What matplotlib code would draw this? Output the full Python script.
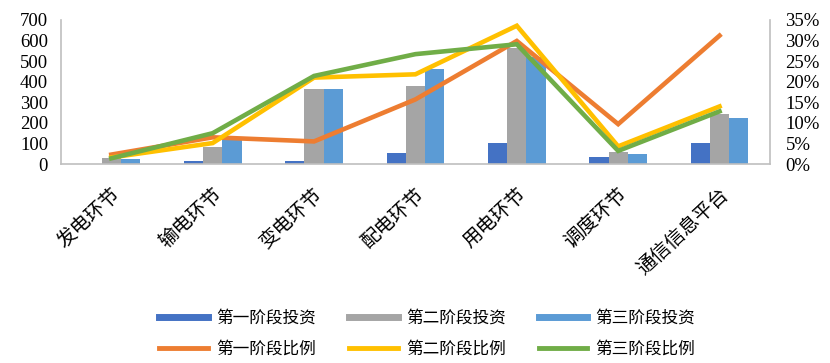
import numpy as np
import matplotlib.pyplot as plt
import matplotlib.transforms as mtransforms
from matplotlib.lines import Line2D
from matplotlib.ticker import FuncFormatter

plt.rcParams['font.family'] = ['Liberation Serif', 'Noto Sans CJK SC']

# categories and values
categories = ['发电环节', '输电环节', '变电环节', '配电环节', '用电环节', '调度环节', '通信信息平台']
invest1 = [2, 16, 16, 55, 100, 33, 104]
invest2 = [31, 84, 365, 379, 562, 57, 243]
invest3 = [23, 117, 365, 460, 520, 49, 222]
ratio1 = [2.3, 6.5, 5.5, 15.7, 29.9, 9.7, 31.2]
ratio2 = [1.6, 5.1, 21.0, 21.8, 33.6, 4.3, 14.0]
ratio3 = [1.4, 7.5, 21.4, 26.7, 29.1, 3.2, 12.8]

bar_colors = ['#4472C4', '#A5A5A5', '#5B9BD5']
line_colors = ['#ED7D31', '#FFC000', '#70AD47']

fig = plt.figure(figsize=(8.3, 3.63), dpi=100)
ax = fig.add_axes([0.073, 0.548, 0.855, 0.397])
ax2 = ax.twinx()

x = np.arange(len(categories))
w = 0.19
for i, vals in enumerate([invest1, invest2, invest3]):
    ax.bar(x + (i - 1) * w, vals, width=w, color=bar_colors[i], zorder=2)

for i, vals in enumerate([ratio1, ratio2, ratio3]):
    ax2.plot(x, vals, color=line_colors[i], lw=3.3, solid_joinstyle='miter', zorder=3)

ax.set_xlim(-0.5, len(categories) - 0.5)
ax.set_ylim(0, 700)
ax.set_yticks(range(0, 701, 100))
ax2.set_ylim(0, 35)
ax2.set_yticks(range(0, 36, 5))
ax2.yaxis.set_major_formatter(FuncFormatter(lambda v, p: '%d%%' % v))

ax.set_xticks(x)
ax.set_xticklabels(categories, rotation=43, ha='right', rotation_mode='anchor', fontsize=14)
# nudge the rotated labels a little to the right like the original
shift = mtransforms.ScaledTranslation(0.05, 0, fig.dpi_scale_trans)
for lab in ax.get_xticklabels():
    lab.set_transform(lab.get_transform() + shift)
ax.tick_params(axis='x', length=0, pad=15)
ax.tick_params(axis='y', length=0, labelsize=13.5, pad=9)
ax2.tick_params(axis='y', length=0, labelsize=13.5, pad=11)

for a in (ax, ax2):
    a.spines['top'].set_visible(False)
    for s in ('left', 'right', 'bottom'):
        a.spines[s].set_color('#BFBFBF')
        a.spines[s].set_linewidth(1.2)
ax.spines['right'].set_visible(False)
ax2.spines['left'].set_visible(False)
ax2.spines['bottom'].set_visible(False)

labels_inv = ['第一阶段投资', '第二阶段投资', '第三阶段投资']
labels_rat = ['第一阶段比例', '第二阶段比例', '第三阶段比例']
handles = []
labels = []
for i in range(3):
    handles.append(Line2D([], [], color=bar_colors[i], lw=5))
    labels.append(labels_inv[i])
    handles.append(Line2D([], [], color=line_colors[i], lw=3.5))
    labels.append(labels_rat[i])
fig.legend(handles, labels, ncol=3, loc='center', bbox_to_anchor=(0.515, 0.079),
           frameon=False, fontsize=12, handlelength=2.9, handletextpad=0.5,
           columnspacing=2.0, labelspacing=0.9)

fig.savefig('out.png', dpi=100)
